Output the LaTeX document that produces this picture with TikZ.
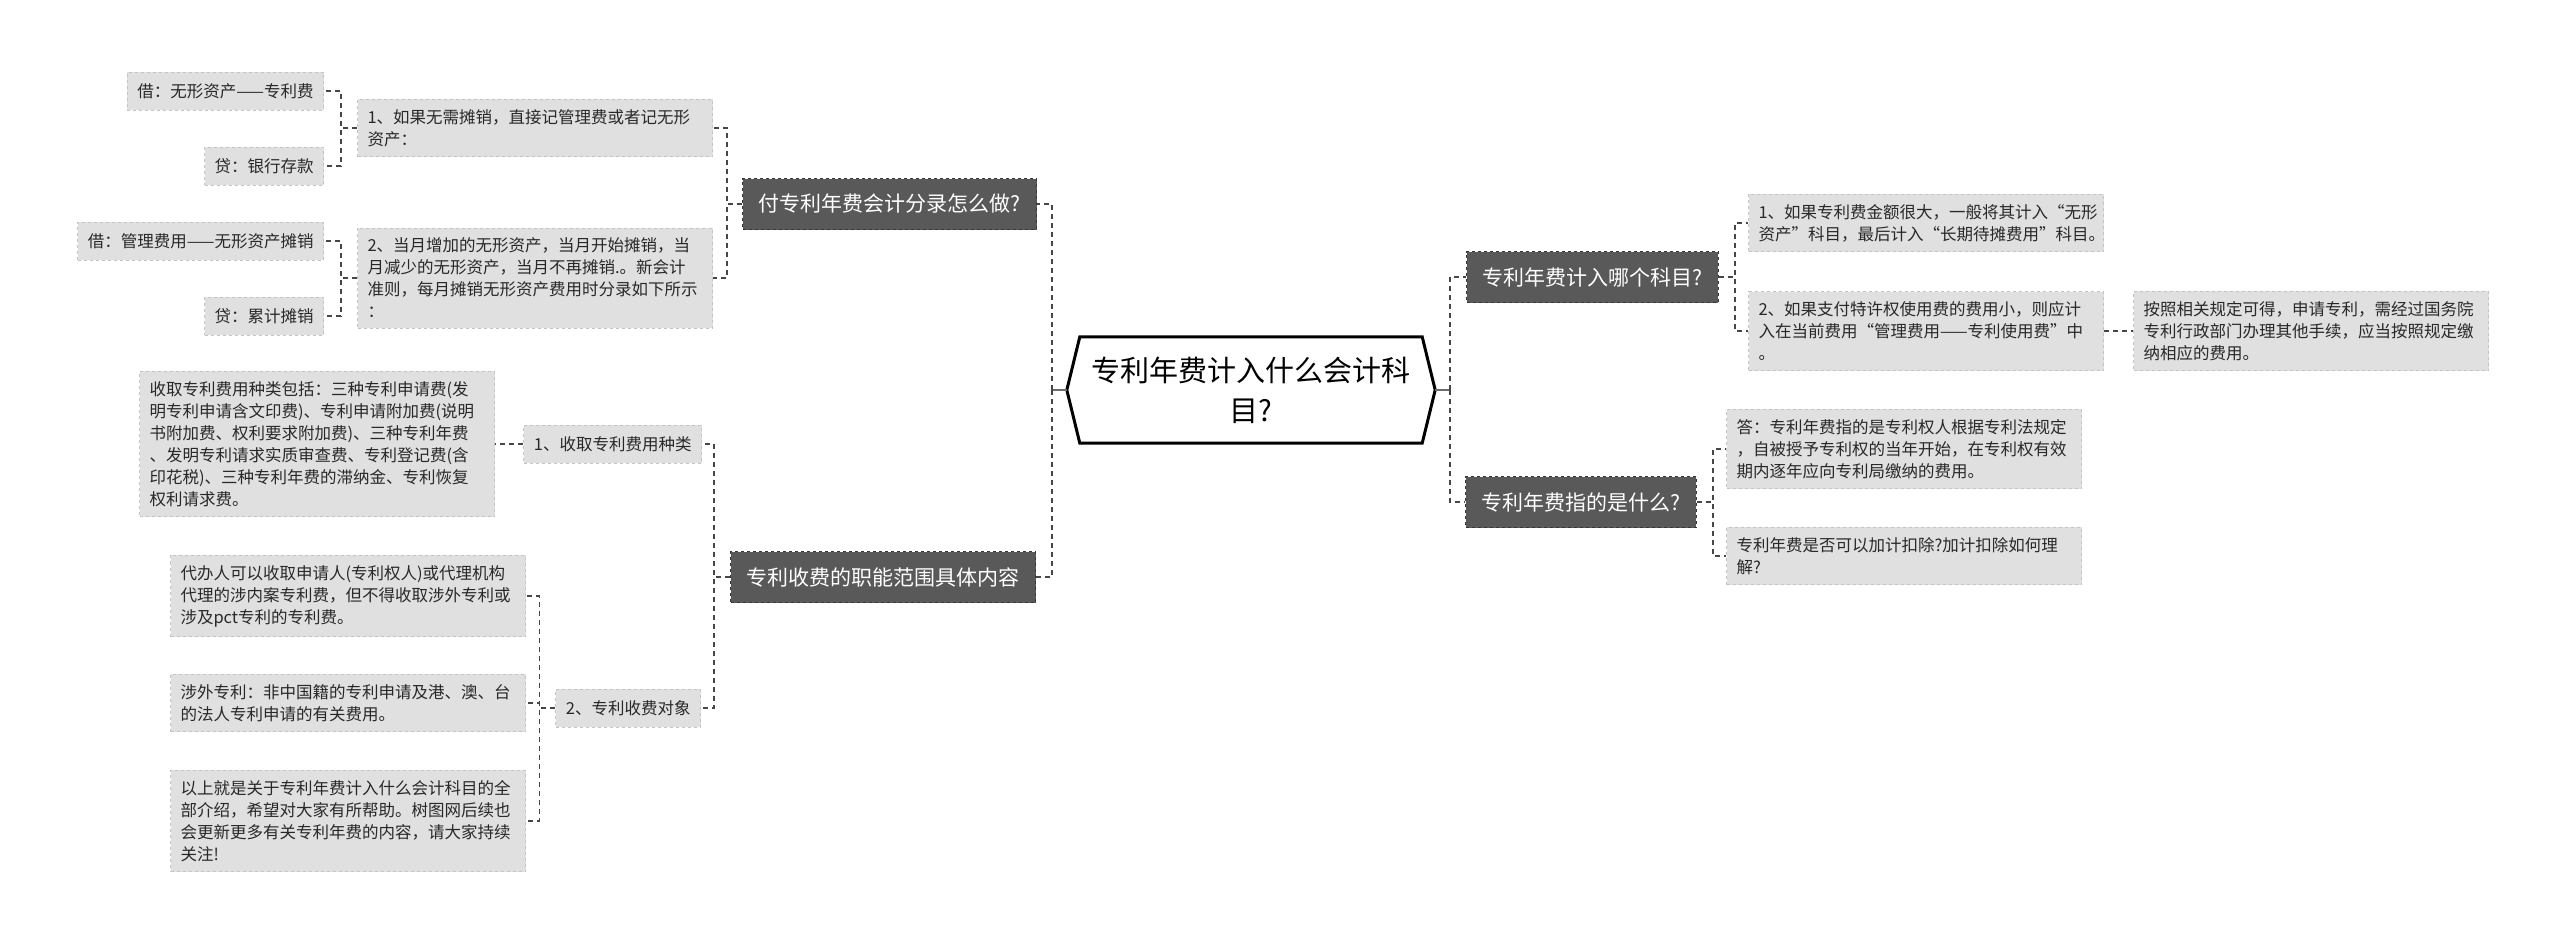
\documentclass[tikz,border=0pt]{standalone}
\usepackage{fontspec}
\setmainfont{Noto Sans CJK SC}
\usetikzlibrary{positioning}
\definecolor{LeafGray}{RGB}{224,224,224}
\definecolor{LeafEdge}{RGB}{196,196,196}
\definecolor{TopicGray}{RGB}{89,89,89}
\definecolor{TopicEdge}{RGB}{55,55,55}
\definecolor{LinkGray}{RGB}{70,70,70}
\definecolor{TextGray}{RGB}{40,40,40}

\begin{document}
\begin{tikzpicture}[x=1pt, y=-1pt,
    leaf/.style={fill=LeafGray, draw=LeafEdge, dashed, line width=1pt, text=TextGray,
      font=\fontsize{16.5}{22}\selectfont, inner xsep=10pt, inner ysep=10pt, align=left},
    oneline/.style={leaf, minimum height=38pt},
    para/.style={leaf, text width=335pt},
    topic/.style={fill=TopicGray, draw=TopicEdge, dashed, line width=1pt, text=white,
      font=\fontsize{21}{26}\selectfont, inner xsep=16pt, minimum height=51pt},
    root/.style={minimum width=342pt, minimum height=106pt, align=center,
      font=\fontsize{29}{40}\selectfont, text=black},
    link/.style={draw=LinkGray, line width=1.6pt, dash pattern=on 5pt off 4pt},
    stem/.style={draw=LinkGray!80, line width=2pt}]

  % Canvas
  \fill[white] (0,0) rectangle (2560,945);
  \useasboundingbox (0,0) rectangle (2560,945);

  % Root
  \node[root] (root) at (1251,390) {专利年费计入什么会计科\\目?};
  \draw[line width=3pt, line join=miter] (root.north west) -- (root.north east)
    -- ([xshift=13pt]root.east) -- (root.south east) -- (root.south west)
    -- ([xshift=-13pt]root.west) -- cycle;

  % Left topics
  \node[topic, anchor=east] (fu) at (1037,204) {付专利年费会计分录怎么做?};
  \node[topic, anchor=east] (zhineng) at (1036,577) {专利收费的职能范围具体内容};

  % Right topics
  \node[topic, anchor=west] (jiru) at (1466,277) {专利年费计入哪个科目?};
  \node[topic, anchor=west] (zhi) at (1465,502) {专利年费指的是什么?};

  % Entries for fu
  \node[para, anchor=west] (fen1) at (357,128) {1、如果无需摊销，直接记管理费或者记无形\\资产：};
  \node[para, anchor=west] (fen2) at (357,278) {2、当月增加的无形资产，当月开始摊销，当\\月减少的无形资产，当月不再摊销.。新会计\\准则，每月摊销无形资产费用时分录如下所示\\：};
  \node[oneline, anchor=east] (jie1) at (324,91) {借：无形资产——专利费};
  \node[oneline, anchor=east] (dai1) at (324,166) {贷：银行存款};
  \node[oneline, anchor=east] (jie2) at (324,241) {借：管理费用——无形资产摊销};
  \node[oneline, anchor=east] (dai2) at (324,316) {贷：累计摊销};

  % Entries for zhineng
  \node[oneline, anchor=east] (shouqu) at (702,444) {1、收取专利费用种类};
  \node[para, anchor=west] (zhonglei) at (139,444) {收取专利费用种类包括：三种专利申请费(发\\明专利申请含文印费)、专利申请附加费(说明\\书附加费、权利要求附加费)、三种专利年费\\、发明专利请求实质审查费、专利登记费(含\\印花税)、三种专利年费的滞纳金、专利恢复\\权利请求费。};
  \node[oneline, anchor=east] (duixiang) at (701,708) {2、专利收费对象};
  \node[para, anchor=west] (daiban) at (170,596) {代办人可以收取申请人(专利权人)或代理机构\\代理的涉内案专利费，但不得收取涉外专利或\\涉及pct专利的专利费。};
  \node[para, anchor=west] (shewai) at (170,703) {涉外专利：非中国籍的专利申请及港、澳、台\\的法人专利申请的有关费用。};
  \node[para, anchor=west] (yishang) at (170,821) {以上就是关于专利年费计入什么会计科目的全\\部介绍，希望对大家有所帮助。树图网后续也\\会更新更多有关专利年费的内容，请大家持续\\关注!};

  % Entries for jiru
  \node[para, anchor=west] (kemu1) at (1748,223) {1、如果专利费金额很大，一般将其计入“无形\\资产”科目，最后计入“长期待摊费用”科目。};
  \node[para, anchor=west] (kemu2) at (1748,331) {2、如果支付特许权使用费的费用小，则应计\\入在当前费用“管理费用——专利使用费”中\\。};
  \node[para, anchor=west] (guiding) at (2133,331) {按照相关规定可得，申请专利，需经过国务院\\专利行政部门办理其他手续，应当按照规定缴\\纳相应的费用。};

  % Entries for zhi
  \node[para, anchor=west] (da) at (1726,449) {答：专利年费指的是专利权人根据专利法规定\\，自被授予专利权的当年开始，在专利权有效\\期内逐年应向专利局缴纳的费用。};
  \node[para, anchor=west] (jiaji) at (1726,556) {专利年费是否可以加计扣除?加计扣除如何理\\解?};

  % Root links
  \draw[stem] ([xshift=-13pt]root.west) -- ++(-15pt,0) coordinate (brL);
  \draw[stem] ([xshift=13pt]root.east) -- ++(15pt,0) coordinate (brR);
  \draw[link] (brL) |- (fu.east);
  \draw[link] (brL) |- (zhineng.east);
  \draw[link] (brR) |- (jiru.west);
  \draw[link] (brR) |- (zhi.west);

  % Left links
  \foreach \c in {fen1,fen2} \draw[link] (fu.west) -- ++(-15pt,0) |- (\c.east);
  \foreach \c in {jie1,dai1} \draw[link] (fen1.west) -- ++(-16pt,0) |- (\c.east);
  \foreach \c in {jie2,dai2} \draw[link] (fen2.west) -- ++(-16pt,0) |- (\c.east);
  \foreach \c in {shouqu,duixiang} \draw[link] (zhineng.west) -- ++(-16pt,0) |- (\c.east);
  \draw[link] (shouqu.west) -- (zhonglei.east);
  \foreach \c in {daiban,shewai,yishang} \draw[link] (duixiang.west) -- ++(-16pt,0) |- (\c.east);

  % Right links
  \foreach \c in {kemu1,kemu2} \draw[link] (jiru.east) -- ++(16pt,0) |- (\c.west);
  \draw[link] (kemu2.east) -- (guiding.west);
  \foreach \c in {da,jiaji} \draw[link] (zhi.east) -- ++(16pt,0) |- (\c.west);
\end{tikzpicture}
\end{document}
